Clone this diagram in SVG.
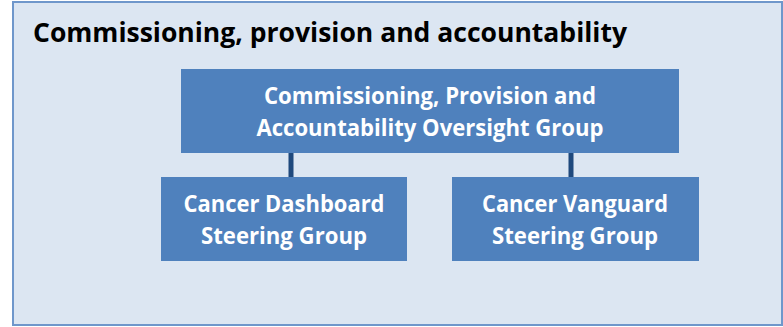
<svg xmlns="http://www.w3.org/2000/svg" width="783" height="327" viewBox="0 0 783 327">
<style>
.box{fill:#4f81bd;}
.t{font-family:"Open Sans","Liberation Sans",sans-serif;font-weight:bold;fill:#ffffff;font-size:22.5px;text-anchor:middle;}
.title{font-family:"Open Sans","Liberation Sans",sans-serif;font-weight:bold;fill:#000000;font-size:26.5px;}
.conn{stroke:#1f497d;stroke-width:5;}
</style>
<g id="frame">
<rect x="13" y="2" width="769" height="323" fill="#dce6f2" stroke="#6f97cb" stroke-width="2"/>
<text class="title" x="33" y="42" textLength="594" lengthAdjust="spacingAndGlyphs">Commissioning, provision and accountability</text>
</g>
<g id="connectors">
<line class="conn" x1="291" y1="153" x2="291" y2="177"/>
<line class="conn" x1="571" y1="153" x2="571" y2="177"/>
</g>
<g id="oversight">
<rect class="box" x="181" y="69" width="498" height="84"/>
<text class="t" x="430" y="104" textLength="332" lengthAdjust="spacingAndGlyphs">Commissioning, Provision and</text>
<text class="t" x="430" y="136" textLength="347" lengthAdjust="spacingAndGlyphs">Accountability Oversight Group</text>
</g>
<g id="dashboard">
<rect class="box" x="161" y="177" width="246" height="84"/>
<text class="t" x="284" y="212" textLength="201" lengthAdjust="spacingAndGlyphs">Cancer Dashboard</text>
<text class="t" x="284" y="244" textLength="166" lengthAdjust="spacingAndGlyphs">Steering Group</text>
</g>
<g id="vanguard">
<rect class="box" x="452" y="177" width="247" height="84"/>
<text class="t" x="575" y="212" textLength="186" lengthAdjust="spacingAndGlyphs">Cancer Vanguard</text>
<text class="t" x="575" y="244" textLength="166" lengthAdjust="spacingAndGlyphs">Steering Group</text>
</g>
</svg>
